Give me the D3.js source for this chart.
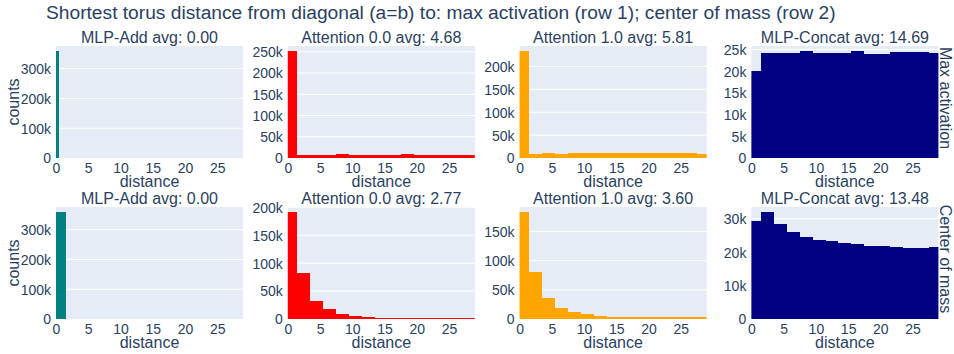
<!DOCTYPE html>
<html>
<head>
<meta charset="utf-8">
<script src="https://cdn.jsdelivr.net/npm/d3@7"></script>
<style>
  body { margin: 0; background: #fff; }
  svg { display: block; }
  text { font-family: "Liberation Sans", Arial, Helvetica, sans-serif; fill: #2a3f5f; }
</style>
</head>
<body>
<svg id="chart" width="954" height="354"></svg>
<script>
// ---- data ----
const chartTitle = "Shortest torus distance from diagonal (a=b) to: max activation (row 1); center of mass (row 2)";
const modelNames = ["MLP-Add", "Attention 0.0", "Attention 1.0", "MLP-Concat"];
const rowTitles = ["Max activation", "Center of mass"];
const avgMaxActivation = [0.00, 4.68, 5.81, 14.69];
const avgCenterOfMass = [0.00, 2.77, 3.60, 13.48];

// histogram bin left edges (width 2) and the single-bin case
const binStarts = [-0.5, 1.5, 3.5, 5.5, 7.5, 9.5, 11.5, 13.5, 15.5, 17.5, 19.5, 21.5, 23.5, 25.5, 27.5];
const singleBinStart = [-0.5];

// row 1: distance to max activation
const maxMlpAdd = [358000];
const maxAttn0 = [251000, 7500, 7500, 7500, 10000, 7500, 7500, 7500, 7500, 10000, 7500, 7500, 7500, 7500, 7500];
const maxAttn1 = [233000, 9500, 11500, 8500, 10500, 10500, 10500, 10500, 10500, 10500, 10500, 10500, 10500, 10500, 9300];
const maxMlpConcat = [20000, 24300, 24300, 24300, 24600, 24300, 24300, 24300, 24600, 24100, 24100, 24500, 24500, 24500, 24300];

// row 2: distance to center of mass
const comMlpAdd = [358000];
const comAttn0 = [191000, 82400, 32400, 17100, 9400, 5900, 4100, 2400, 2400, 1200, 1200, 1200, 1200, 1200, 1200];
const comAttn1 = [182700, 81300, 36700, 19500, 12600, 9200, 5700, 4000, 4000, 2900, 2900, 2900, 2900, 2900, 2900];
const comMlpConcat = [29200, 31900, 28300, 25900, 24400, 23500, 23200, 22700, 22300, 21800, 21700, 21400, 21100, 21100, 21400];

// axis ticks
const xTicks = [0, 5, 10, 15, 20, 25];
const xDomain = [0, 29];
const yTicksMax = [
  [0, 100000, 200000, 300000],
  [0, 50000, 100000, 150000, 200000, 250000],
  [0, 50000, 100000, 150000, 200000],
  [0, 5000, 10000, 15000, 20000, 25000]
];
const yTicksCom = [
  [0, 100000, 200000, 300000],
  [0, 50000, 100000, 150000, 200000],
  [0, 50000, 100000, 150000],
  [0, 10000, 20000, 30000]
];

// ---- styling / layout ----
const barColors = ["#008080", "#ff0000", "#ffa500", "#000080"];
const panelW = 187, panelH = 112;
const colLeft = [56, 287.8, 519.6, 751.4];
const rowTop = [46, 207];

const panels = [
  { row: 0, col: 0, counts: maxMlpAdd, starts: singleBinStart, size: 1, avg: avgMaxActivation[0], ticks: yTicksMax[0] },
  { row: 0, col: 1, counts: maxAttn0, starts: binStarts, size: 2, avg: avgMaxActivation[1], ticks: yTicksMax[1] },
  { row: 0, col: 2, counts: maxAttn1, starts: binStarts, size: 2, avg: avgMaxActivation[2], ticks: yTicksMax[2] },
  { row: 0, col: 3, counts: maxMlpConcat, starts: binStarts, size: 2, avg: avgMaxActivation[3], ticks: yTicksMax[3] },
  { row: 1, col: 0, counts: comMlpAdd, starts: binStarts.slice(0, 1), size: 2, avg: avgCenterOfMass[0], ticks: yTicksCom[0] },
  { row: 1, col: 1, counts: comAttn0, starts: binStarts, size: 2, avg: avgCenterOfMass[1], ticks: yTicksCom[1] },
  { row: 1, col: 2, counts: comAttn1, starts: binStarts, size: 2, avg: avgCenterOfMass[2], ticks: yTicksCom[2] },
  { row: 1, col: 3, counts: comMlpConcat, starts: binStarts, size: 2, avg: avgCenterOfMass[3], ticks: yTicksCom[3] }
];

const svg = d3.select("#chart");

svg.append("text")
  .attr("x", 46).attr("y", 18.5)
  .attr("font-size", 19.2)
  .text(chartTitle);

const kFormat = d => d === 0 ? "0" : (d / 1000) + "k";

panels.forEach((p, i) => {
  const g = svg.append("g")
    .attr("transform", `translate(${colLeft[p.col]},${rowTop[p.row]})`);

  const x = d3.scaleLinear().domain(xDomain).range([0, panelW]);
  const yMax = d3.max(p.counts) * 1.05;
  const y = d3.scaleLinear().domain([0, yMax]).range([panelH, 0]);

  g.append("rect")
    .attr("width", panelW).attr("height", panelH)
    .attr("fill", "#E5ECF6");

  const visibleTicks = p.ticks.filter(t => t <= yMax);

  // horizontal grid
  g.append("g").selectAll("line")
    .data(visibleTicks.filter(t => t > 0))
    .join("line")
    .attr("x1", 0).attr("x2", panelW)
    .attr("y1", d => y(d)).attr("y2", d => y(d))
    .attr("stroke", "#fff").attr("stroke-width", 1);

  const clipId = "clip" + i;
  g.append("clipPath").attr("id", clipId)
    .append("rect").attr("width", panelW).attr("height", panelH);

  const bins = p.counts.map((c, j) => ({ x0: p.starts[j], x1: p.starts[j] + p.size, c }));
  g.append("g").attr("clip-path", `url(#${clipId})`)
    .selectAll("rect")
    .data(bins)
    .join("rect")
    .attr("x", d => x(d.x0))
    .attr("width", d => x(d.x1) - x(d.x0))
    .attr("y", d => y(d.c))
    .attr("height", d => y(0) - y(d.c))
    .attr("fill", barColors[p.col])
    .attr("shape-rendering", "crispEdges");

  // x axis
  const xAxis = g.append("g")
    .attr("transform", `translate(0,${panelH})`)
    .call(d3.axisBottom(x).tickValues(xTicks).tickSize(0).tickPadding(0));
  xAxis.select(".domain").remove();
  xAxis.selectAll("text")
    .attr("font-size", 14).attr("dy", null).attr("y", 14.5)
    .attr("font-family", null).style("fill", "#2a3f5f");

  // y axis
  const yAxis = g.append("g")
    .call(d3.axisLeft(y).tickValues(visibleTicks).tickFormat(kFormat).tickSize(0).tickPadding(5));
  yAxis.select(".domain").remove();
  yAxis.selectAll("text")
    .attr("font-size", 14).attr("dy", "0.35em")
    .attr("font-family", null).style("fill", "#2a3f5f");
  svg.selectAll(".tick line").remove();

  // subplot title
  g.append("text")
    .attr("x", panelW / 2).attr("y", -3.5)
    .attr("text-anchor", "middle")
    .attr("font-size", 16)
    .text(`${modelNames[p.col]} avg: ${p.avg.toFixed(2)}`);

  // x label
  g.append("text")
    .attr("x", panelW / 2).attr("y", panelH + 28.5)
    .attr("text-anchor", "middle")
    .attr("font-size", 16)
    .text("distance");

  if (p.col === 0) {
    g.append("text")
      .attr("transform", `translate(${19 - colLeft[0]},${panelH / 2}) rotate(-90)`)
      .attr("text-anchor", "middle")
      .attr("font-size", 16)
      .text("counts");
  }
  if (p.col === 3) {
    g.append("text")
      .attr("transform", `translate(${panelW + 2},${panelH / 2 - 4}) rotate(90)`)
      .attr("text-anchor", "middle")
      .attr("font-size", 16)
      .text(rowTitles[p.row]);
  }
});
</script>
</body>
</html>
